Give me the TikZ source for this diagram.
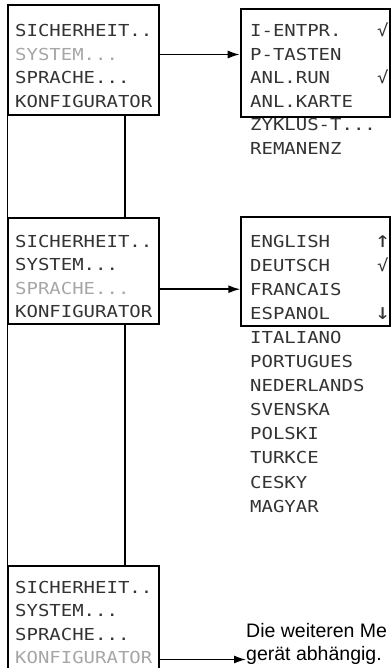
\documentclass[tikz,border=0pt]{standalone}
\usepackage{fontspec}
\setmainfont{Liberation Sans}
\newfontfamily\lcdfont[FakeStretch=1.15]{DejaVu Sans Mono}
\usetikzlibrary{arrows.meta}
\usetikzlibrary{fit,positioning}
\tikzset{>={Latex[length=12pt,width=8pt]}}
\colorlet{lcdon}{black!80}
\colorlet{lcdoff}{black!35}
\newcommand\lcddots{...}
\newcommand\lcdtwo{..}
\tikzset{
	menubox/.style={draw,line width=1.5pt,inner sep=0pt},
	selbox/.style={draw,line width=2.6pt,inner sep=0pt},
	item/.style={anchor=base west,inner sep=0pt,text height=12pt,text depth=0pt,
		font=\lcdfont\fontsize{16.5}{18}\selectfont,text=lcdon},
	dim/.style={item,text=lcdoff},
	lcdarrow/.style={item,font=\lcdfont\fontsize{22}{24}\selectfont},
	link/.style={line width=1.5pt},
	note/.style={anchor=base west,inner sep=0pt,font=\fontsize{19.5}{23}\selectfont}
}

\begin{document}
\begin{tikzpicture}[x=1pt,y=-1pt]
				\useasboundingbox (0,0) rectangle (391,668);
				\clip (0,0) rectangle (391,668);
				% left column
				\node[menubox,fit={(8,5) (159,115)}] (sys1) {};
				\node[menubox,fit={(8,218) (159,324)}] (sys2) {};
				\node[menubox,fit={(8,566) (159,690)}] (sys3) {};
				\foreach \t/\s [count=\i] in {SICHERHEIT\lcdtwo/item,SYSTEM\lcddots/dim,SPRACHE\lcddots/item,KONFIGURATOR/item}
					\node[\s] (sys1-\i) at (15,{37+23.5*(\i-1)}) {\t};
				\foreach \t/\s [count=\i] in {SICHERHEIT\lcdtwo/item,SYSTEM\lcddots/item,SPRACHE\lcddots/dim,KONFIGURATOR/item}
					\node[\s] (sys2-\i) at (15,{247+23.5*(\i-1)}) {\t};
				\foreach \t/\s [count=\i] in {SICHERHEIT\lcdtwo/item,SYSTEM\lcddots/item,SPRACHE\lcddots/item,KONFIGURATOR/dim}
					\node[\s] (sys3-\i) at (15,{593+23.5*(\i-1)}) {\t};
				% right column
				\node[selbox,fit={(241,9) (390,117)}] (sub1) {};
				\foreach \t [count=\i] in {I-ENTPR.,P-TASTEN,ANL.RUN,ANL.KARTE,ZYKLUS-T\lcddots,REMANENZ}
					\node[item] (sub1-\i) at (250,{37+23.5*(\i-1)}) {\t};
				\node[item] (chk1) at ([xshift=127pt]sub1-1.base west) {√};
				\node[item] (chk2) at ([xshift=127pt]sub1-3.base west) {√};
				\node[menubox,fit={(241,217) (390,326)}] (lang) {};
				\foreach \t [count=\i] in {ENGLISH,DEUTSCH,FRANCAIS,ESPANOL,ITALIANO,PORTUGUES,NEDERLANDS,SVENSKA,POLSKI,TURKCE,CESKY,MAGYAR}
					\node[item] (lang-\i) at (250,{247+24.1*(\i-1)}) {\t};
				\node[lcdarrow] (up) at ([xshift=125pt]lang-1.base west) {↑};
				\node[item] (ok) at ([xshift=127pt]lang-2.base west) {√};
				\node[lcdarrow] (down) at ([xshift=125pt]lang-4.base west) {↓};
				\node[note] (note1) at (246,637) {Die weiteren Me};
				\node[note] (note2) at (246,660) {gerät abhängig.};
				% connectors
				\draw[link] (sys1.south west) -- (sys2.north west);
				\draw[link] (sys2.south west) -- (sys3.north west);
				\draw[link] ([xshift=41.5pt]sys1.south) -- ([xshift=41.5pt]sys2.north);
				\draw[link] ([xshift=41.5pt]sys2.south) -- ([xshift=41.5pt]sys3.north);
				\draw[link,->] (sys1.east |- sub1-2.west) -- (sub1.west |- sub1-2.west);
				\draw[link,->] (sys2.east |- lang-3.west) -- (lang.west |- lang-3.west);
				\draw[link,->] ([yshift=-2pt]sys3.east |- sys3-4.west) -- ([yshift=-2pt]note2.west |- sys3-4.west);
\end{tikzpicture}
\end{document}
